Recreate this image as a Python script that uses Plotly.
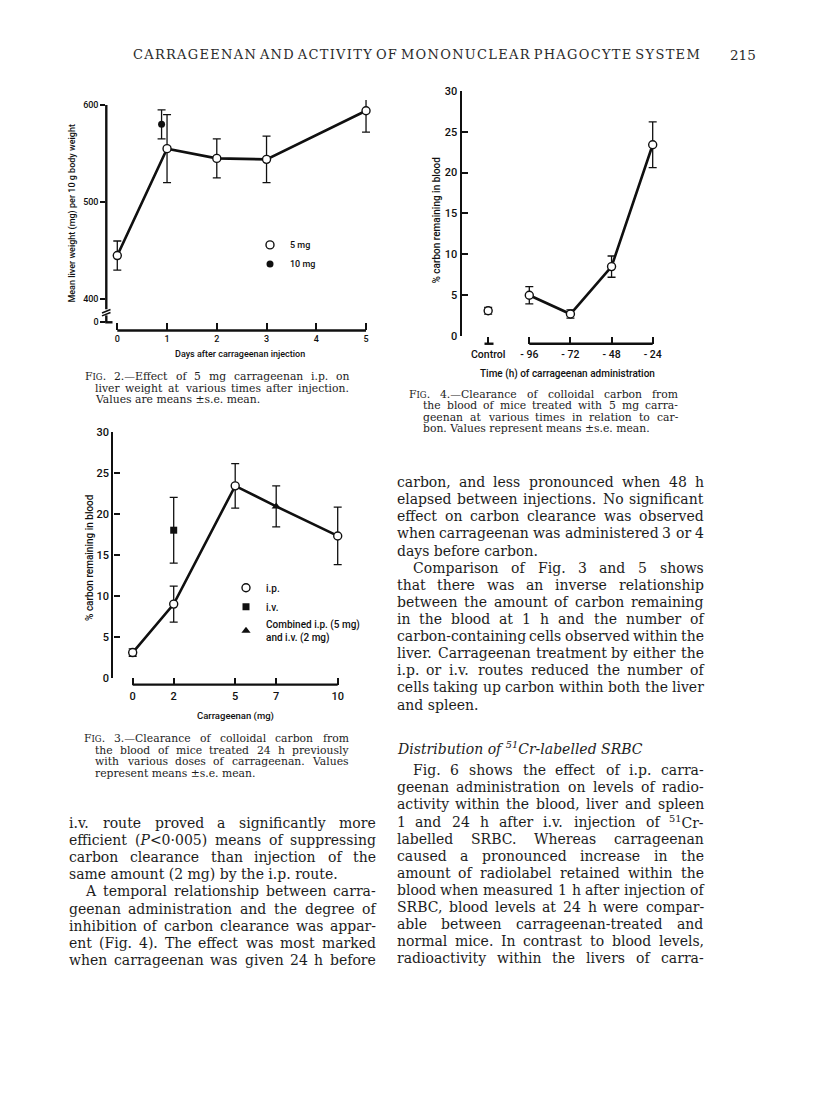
import re
import html
import plotly.graph_objects as go

# ---------------- data ----------------
# Fig. 2 : liver weight vs days after injection
fig2_days = [0, 1, 2, 3, 5]
fig2_liver_5mg = [445, 555, 545, 544, 594]
fig2_se_5mg = [15, 35, 20, 24, 22]
fig2_day_10mg = [0.89]
fig2_liver_10mg = [580]
fig2_se_10mg = [15]
fig2_xticks = [0, 1, 2, 3, 4, 5]
fig2_yticks = [376.3, 400, 500, 600]
fig2_yticktext = ["0", "400", "500", "600"]

# Fig. 3 : carbon remaining vs carrageenan dose
fig3_dose_ip = [0, 2, 5, 10]
fig3_ip = [3.1, 9.0, 23.4, 17.3]
fig3_ip_se = [0.45, 2.2, 2.7, 3.5]
fig3_dose_iv = [2]
fig3_iv = [18.0]
fig3_iv_se = [4.0]
fig3_dose_comb = [7]
fig3_comb = [20.9]
fig3_comb_se = [2.5]
fig3_xticks = [0, 2, 5, 7, 10]
fig3_yticks = [0, 5, 10, 15, 20, 25, 30]

# Fig. 4 : carbon remaining vs time of administration
fig4_time = [-96, -72, -48, -24]
fig4_carbon = [5.0, 2.7, 8.5, 23.4]
fig4_se = [1.05, 0.5, 1.3, 2.8]
fig4_control_x = [-120]
fig4_control = [3.1]
fig4_control_se = [0.4]
fig4_xticks = [-120, -96, -72, -48, -24]
fig4_xticktext = ["Control", "- 96", "- 72", "- 48", "- 24"]
fig4_yticks = [0, 5, 10, 15, 20, 25, 30]

# ---------------- page text ----------------
header_text = "CARRAGEENAN AND ACTIVITY OF MONONUCLEAR PHAGOCYTE SYSTEM"
page_number = "215"

FIG = "F<span style='font-size:8.5px'>IG</span>."
cap2_lines = [FIG + " 2.\u2014Effect of 5 mg carrageenan i.p. on",
              "liver weight at various times after injection.",
              "Values are means \u00b1s.e. mean."]
cap3_lines = [FIG + " 3.\u2014Clearance of colloidal carbon from",
              "the blood of mice treated 24 h previously",
              "with various doses of carrageenan. Values",
              "represent means \u00b1s.e. mean."]
cap4_lines = [FIG + " 4.\u2014Clearance of colloidal carbon from",
              "the blood of mice treated with 5 mg carra-",
              "geenan at various times in relation to car-",
              "bon. Values represent means \u00b1s.e. mean."]

left_body = ["i.v. route proved a significantly more",
             "efficient (<i>P</i>&lt;0\u00b7005) means of suppressing",
             "carbon clearance than injection of the",
             "same amount (2 mg) by the i.p. route.",
             "A temporal relationship between carra-",
             "geenan administration and the degree of",
             "inhibition of carbon clearance was appar-",
             "ent (Fig. 4). The effect was most marked",
             "when carrageenan was given 24 h before"]
left_indent = [0, 0, 0, 0, 1, 0, 0, 0, 0]
left_last = [0, 0, 0, 1, 0, 0, 0, 0, 0]

right_body1 = ["carbon, and less pronounced when 48 h",
               "elapsed between injections. No significant",
               "effect on carbon clearance was observed",
               "when carrageenan was administered 3 or 4",
               "days before carbon.",
               "Comparison of Fig. 3 and 5 shows",
               "that there was an inverse relationship",
               "between the amount of carbon remaining",
               "in the blood at 1 h and the number of",
               "carbon-containing cells observed within the",
               "liver. Carrageenan treatment by either the",
               "i.p. or i.v. routes reduced the number of",
               "cells taking up carbon within both the liver",
               "and spleen."]
right_indent1 = [0, 0, 0, 0, 0, 1, 0, 0, 0, 0, 0, 0, 0, 0]
right_last1 = [0, 0, 0, 0, 1, 0, 0, 0, 0, 0, 0, 0, 0, 1]

right_heading = "<i>Distribution of <sup>51</sup>Cr-labelled SRBC</i>"
right_body2 = ["Fig. 6 shows the effect of i.p. carra-",
               "geenan administration on levels of radio-",
               "activity within the blood, liver and spleen",
               "1 and 24 h after i.v. injection of <sup>51</sup>Cr-",
               "labelled SRBC. Whereas carrageenan",
               "caused a pronounced increase in the",
               "amount of radiolabel retained within the",
               "blood when measured 1 h after injection of",
               "SRBC, blood levels at 24 h were compar-",
               "able between carrageenan-treated and",
               "normal mice. In contrast to blood levels,",
               "radioactivity within the livers of carra-"]
right_indent2 = [1] + [0] * 11
right_last2 = [0] * 12

# ---------------- helpers ----------------
# the page body has an 8px margin, so the figure is 16px smaller than the window
PAGE_W, PAGE_H = 816, 1109
OFF = 8
W, H = PAGE_W - 2 * OFF, PAGE_H - 2 * OFF


def fx(p):
    return (p - OFF) / W


def fy(p):
    return 1 - (p - OFF) / H


INK = "#101010"
TXT = "#1c1c1c"
SANS = "Roboto, Liberation Sans, Arial, sans-serif"
SW = 500
SERIF = "DejaVu Serif, serif"


def sfont(size):
    return dict(family=SANS, size=size, color=INK, weight=SW)


fig = go.Figure()

EB = dict(type="data", color=INK, thickness=1.3, width=4)
OPEN = dict(symbol="circle", size=8, color="white", line=dict(color=INK, width=1.4))

# ---- Fig 2 traces ----
fig.add_trace(go.Scatter(x=fig2_days, y=fig2_liver_5mg, mode="lines",
                         line=dict(color=INK, width=2.6), showlegend=False,
                         xaxis="x", yaxis="y", hoverinfo="skip"))
fig.add_trace(go.Scatter(x=fig2_days, y=fig2_liver_5mg, mode="markers", name="5 mg",
                         marker=OPEN, error_y=dict(EB, array=fig2_se_5mg),
                         xaxis="x", yaxis="y", legend="legend", cliponaxis=False))
fig.add_trace(go.Scatter(x=fig2_day_10mg, y=fig2_liver_10mg, mode="markers", name="10 mg",
                         marker=dict(symbol="circle", size=7, color=INK),
                         error_y=dict(EB, array=fig2_se_10mg),
                         xaxis="x", yaxis="y", legend="legend", cliponaxis=False))

# ---- Fig 3 traces ----
pts = sorted(zip(fig3_dose_ip + fig3_dose_comb, fig3_ip + fig3_comb))
fig.add_trace(go.Scatter(x=[p[0] for p in pts], y=[p[1] for p in pts], mode="lines",
                         line=dict(color=INK, width=2.6), showlegend=False,
                         xaxis="x2", yaxis="y2", hoverinfo="skip"))
fig.add_trace(go.Scatter(x=fig3_dose_ip, y=fig3_ip, mode="markers", name="i.p.",
                         marker=OPEN, error_y=dict(EB, array=fig3_ip_se),
                         xaxis="x2", yaxis="y2", legend="legend2", cliponaxis=False))
fig.add_trace(go.Scatter(x=fig3_dose_iv, y=fig3_iv, mode="markers", name="i.v.",
                         marker=dict(symbol="square", size=7, color=INK),
                         error_y=dict(EB, array=fig3_iv_se),
                         xaxis="x2", yaxis="y2", legend="legend2", cliponaxis=False))
fig.add_trace(go.Scatter(x=fig3_dose_comb, y=fig3_comb, mode="markers",
                         name="Combined i.p. (5 mg)<br>and i.v. (2 mg)",
                         marker=dict(symbol="triangle-up", size=8, color=INK),
                         error_y=dict(EB, array=fig3_comb_se),
                         xaxis="x2", yaxis="y2", legend="legend2", cliponaxis=False))

# ---- Fig 4 traces ----
fig.add_trace(go.Scatter(x=fig4_time, y=fig4_carbon, mode="lines",
                         line=dict(color=INK, width=2.6), showlegend=False,
                         xaxis="x3", yaxis="y3", hoverinfo="skip"))
fig.add_trace(go.Scatter(x=fig4_time, y=fig4_carbon, mode="markers", showlegend=False,
                         marker=OPEN, error_y=dict(EB, array=fig4_se),
                         xaxis="x3", yaxis="y3", cliponaxis=False))
fig.add_trace(go.Scatter(x=fig4_control_x, y=fig4_control, mode="markers", showlegend=False,
                         marker=OPEN, error_y=dict(EB, array=fig4_control_se),
                         xaxis="x3", yaxis="y3", cliponaxis=False))

# ---------------- axes ----------------
common = dict(showgrid=False, zeroline=False, tickcolor=INK, tickwidth=1.8,
              linecolor=INK, fixedrange=True)

layout = dict(
    width=W, height=H, autosize=False,
    margin=dict(l=0, r=0, t=0, b=0),
    paper_bgcolor="white", plot_bgcolor="rgba(0,0,0,0)",
    showlegend=True, hovermode=False,
    # Fig 2
    xaxis=dict(common, domain=[fx(106.3), fx(372)], range=[-0.221, 5.12], anchor="y",
               showline=False, ticks="inside", ticklen=7, tickmode="array",
               tickvals=fig2_xticks, tickfont=sfont(9), ticklabelstandoff=2),
    yaxis=dict(common, domain=[fy(328.3), fy(95)], range=[367.9, 605.1], anchor="x",
               showline=False, ticks="outside", ticklen=5, tickmode="array",
               tickvals=fig2_yticks, ticktext=fig2_yticktext, tickfont=sfont(9)),
    # Fig 3
    xaxis2=dict(common, domain=[fx(113.3), fx(345)], range=[-0.946, 10.356],
                anchor="free", position=fy(686.7),
                showline=False, ticks="inside", ticklen=7, tickmode="array",
                tickvals=fig3_xticks, tickfont=sfont(11), ticklabelstandoff=3),
    yaxis2=dict(common, domain=[fy(680), fy(430.7)], range=[0, 30], anchor="x2",
                showline=True, linewidth=2.4, ticks="inside", ticklen=6, tickmode="array",
                tickvals=fig3_yticks, tickfont=sfont(11)),
    # Fig 4
    xaxis3=dict(common, domain=[fx(461.7), fx(665)], range=[-135.44, -16.82],
                anchor="free", position=fy(341.7),
                showline=False, ticks="inside", ticklen=7, tickmode="array",
                tickvals=fig4_xticks, ticktext=fig4_xticktext,
                tickfont=sfont(10.5), ticklabelstandoff=3),
    yaxis3=dict(common, domain=[fy(334), fy(85.7)], range=[0, 30], anchor="x3",
                showline=True, linewidth=2.4, ticks="inside", ticklen=6, tickmode="array",
                tickvals=fig4_yticks, tickfont=sfont(11)),
    legend=dict(x=fx(250), y=fy(227), xanchor="left", yanchor="top",
                bgcolor="rgba(0,0,0,0)", borderwidth=0, font=sfont(9)),
    legend2=dict(x=fx(226), y=fy(574), xanchor="left", yanchor="top",
                 bgcolor="rgba(0,0,0,0)", borderwidth=0, font=sfont(10)),
)
fig.update_layout(**layout)

# ---------------- axis decorations (brackets, breaks) ----------------
LW = 2.4
shapes = []
# Fig 2 broken y axis
shapes.append(dict(type="line", xref="x domain", yref="y", x0=0, x1=0, y0=389.8, y1=600,
                   line=dict(color=INK, width=LW)))
shapes.append(dict(type="line", xref="paper", yref="paper", x0=fx(102), x1=fx(110.5),
                   y0=fy(310.5), y1=fy(307), line=dict(color=INK, width=1.6)))
shapes.append(dict(type="line", xref="paper", yref="paper", x0=fx(102), x1=fx(110.5),
                   y0=fy(313.5), y1=fy(310), line=dict(color=INK, width=1.6)))
shapes.append(dict(type="line", xref="paper", yref="paper", x0=fx(106.3), x1=fx(106.3),
                   y0=fy(313), y1=fy(320), line=dict(color=INK, width=LW)))
shapes.append(dict(type="line", xref="paper", yref="paper", x0=fx(105.2), x1=fx(112.5),
                   y0=fy(320), y1=fy(320), line=dict(color=INK, width=LW)))
# Fig 2 x bracket
shapes.append(dict(type="line", xref="x", yref="y domain", x0=fig2_xticks[0], x1=fig2_xticks[-1],
                   y0=0, y1=0, line=dict(color=INK, width=LW)))
# Fig 3 x bracket
shapes.append(dict(type="line", xref="x2", yref="paper", x0=fig3_xticks[0], x1=fig3_xticks[-1],
                   y0=fy(686.7), y1=fy(686.7), line=dict(color=INK, width=LW)))
# Fig 4 x bracket and control mark
shapes.append(dict(type="line", xref="x3", yref="paper", x0=fig4_time[0], x1=fig4_time[-1],
                   y0=fy(341.7), y1=fy(341.7), line=dict(color=INK, width=LW)))
shapes.append(dict(type="line", xref="paper", yref="paper", x0=fx(484.5), x1=fx(493.5),
                   y0=fy(341.7), y1=fy(341.7), line=dict(color=INK, width=LW)))
fig.update_layout(shapes=shapes)

# ---------------- text ----------------
ann = []


def text(x, y, t, size, family=SERIF, anchor="left", angle=0, color=TXT, weight=None):
    font = dict(family=family, size=size, color=color)
    if weight:
        font["weight"] = weight
    ann.append(dict(x=fx(x), y=fy(y), xref="paper", yref="paper", text=t,
                    showarrow=False, xanchor=anchor, yanchor="middle",
                    textangle=angle, font=font))


# approximate DejaVu Serif advance widths (em) used to justify the columns
CW = {" ": .318, "a": .596, "b": .640, "c": .560, "d": .640, "e": .592, "f": .370,
      "g": .640, "h": .644, "i": .320, "j": .310, "k": .606, "l": .320, "m": .948,
      "n": .644, "o": .602, "p": .640, "q": .640, "r": .478, "s": .513, "t": .402,
      "u": .644, "v": .565, "w": .856, "x": .564, "y": .565, "z": .527,
      "A": .722, "B": .735, "C": .765, "D": .802, "E": .730, "F": .694, "G": .799,
      "H": .872, "I": .395, "J": .401, "K": .747, "L": .664, "M": 1.024, "N": .875,
      "O": .820, "P": .673, "Q": .820, "R": .753, "S": .685, "T": .667, "U": .843,
      "V": .722, "W": 1.028, "X": .712, "Y": .660, "Z": .695,
      ".": .318, ",": .318, "-": .338, "(": .390, ")": .390, ";": .337, ":": .337,
      "<": .838, "\u00b7": .318, "\u2014": 1.0, "\u00b1": .838}
for d in "0123456789":
    CW[d] = .636


def width(s, size):
    total, scale, stack = 0.0, 1.0, []
    for tok in re.split(r"(<[^>]+>)", s):
        if not tok:
            continue
        if tok.startswith("<"):
            if tok.startswith("</"):
                scale = stack.pop() if stack else 1.0
            else:
                stack.append(scale)
                if tok.startswith("<sup"):
                    scale *= 0.7
                m = re.search(r"font-size:([\d.]+)px", tok)
                if m:
                    scale = float(m.group(1)) / size
        else:
            for ch in html.unescape(tok):
                total += CW.get(ch, 0.6) * scale
    return total * size


def split_words(t):
    # split on spaces that are not inside an html tag
    return re.split(r" (?![^<]*>)", t)


def para_line(x0, x1, y, t, size, justify):
    words = split_words(t)
    if not justify or len(words) < 2:
        text(x0, y, t, size)
        return
    ws = [width(w, size) for w in words]
    gap = (x1 - x0 - sum(ws)) / (len(words) - 1)
    if gap < 0.2 * size:
        text(x0, y, t, size)
        return
    x = x0
    for w, wd in zip(words, ws):
        text(x, y, w, size)
        x += wd + gap


# axis titles
text(73, 210, "Mean liver weight (mg) per 10 g body weight", 9, SANS, "center", -90, INK, SW)
text(240, 352, "Days after carrageenan injection", 9, SANS, "center", 0, INK, SW)
text(437, 217, "% carbon remaining in blood", 10, SANS, "center", -90, INK, SW)
text(567, 372, "Time (h) of carrageenan administration", 10, SANS, "center", 0, INK, SW)
text(89.5, 558, "% carbon remaining in blood", 10, SANS, "center", -90, INK, SW)
text(235, 718, "Carrageenan (mg)", 9.5, SANS, "center", 0, INK, SW)

# running header (letter-spaced capitals)
LSP = "\u200a"
hdr = " ".join(LSP.join(w) for w in header_text.split(" "))
text(131, 49, hdr, 13, SERIF, "left", 0, "#2a2a2a")
text(758, 49, page_number, 13.5, SERIF, "right", 0, "#2a2a2a")

CAP = 10.8


def caption(lines, x_first, x_rest, x_end, ys):
    n = len(lines)
    for i, (ln, y) in enumerate(zip(lines, ys)):
        para_line(x_first if i == 0 else x_rest, x_end, y, ln, CAP, i < n - 1)


caption(cap2_lines, 83.3, 92.7, 347.3, [375, 386.6, 398.2])
caption(cap4_lines, 407.3, 420.7, 676, [393.2, 404.6, 416, 427.4])
caption(cap3_lines, 81.7, 92.7, 346.7, [741, 752.9, 764.8, 776.7])

BODY = 14
LS = 17.32
IND = 16.6
LX0, LX1 = 66.7, 374
RX0, RX1 = 394.5, 701.8


def column(lines, indents, lasts, x0, x1, y0):
    for i, (ln, ind, last) in enumerate(zip(lines, indents, lasts)):
        para_line(x0 + IND * ind, x1, y0 + i * LS, ln, BODY, not last)


column(left_body, left_indent, left_last, LX0, LX1, 826.7)
column(right_body1, right_indent1, right_last1, RX0, RX1, 481.7)
text(RX0, 750.5, right_heading, BODY)
column(right_body2, right_indent2, right_last2, RX0, RX1, 773.3)

fig.update_layout(annotations=ann)
fig.write_html("out.html")
